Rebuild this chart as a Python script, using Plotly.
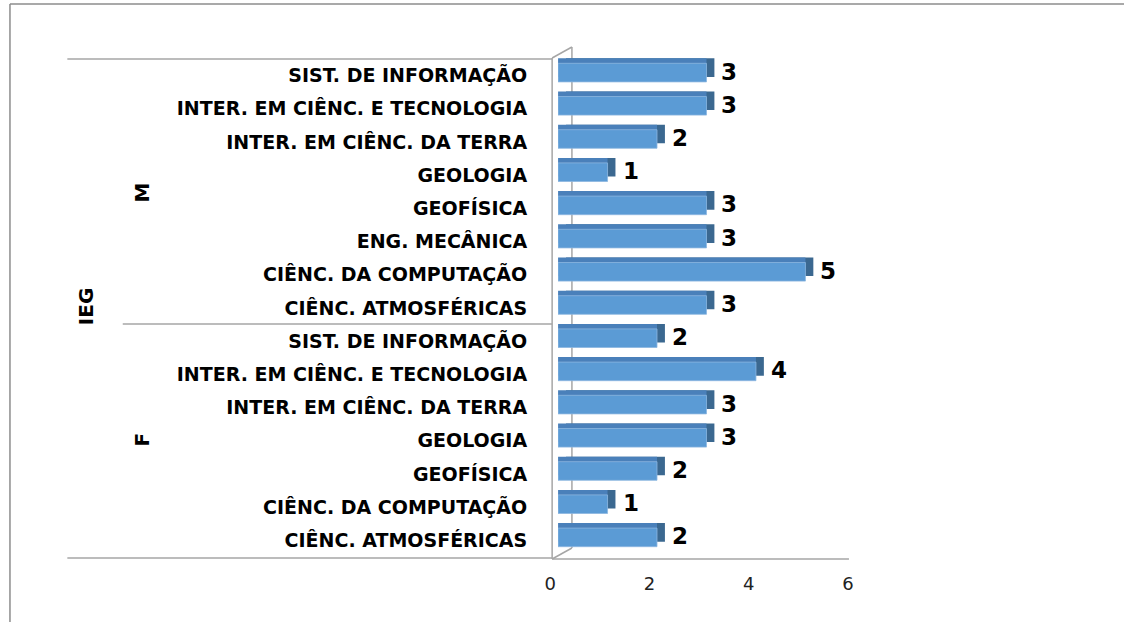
import plotly.graph_objects as go

# ---------------- data ----------------
courses_F = ["CIÊNC. ATMOSFÉRICAS", "CIÊNC. DA COMPUTAÇÃO", "GEOFÍSICA", "GEOLOGIA",
             "INTER. EM CIÊNC. DA TERRA", "INTER. EM CIÊNC. E TECNOLOGIA", "SIST. DE INFORMAÇÃO"]
values_F = [2, 1, 2, 3, 3, 4, 2]
courses_M = ["CIÊNC. ATMOSFÉRICAS", "CIÊNC. DA COMPUTAÇÃO", "ENG. MECÂNICA", "GEOFÍSICA", "GEOLOGIA",
             "INTER. EM CIÊNC. DA TERRA", "INTER. EM CIÊNC. E TECNOLOGIA", "SIST. DE INFORMAÇÃO"]
values_M = [3, 5, 3, 3, 1, 2, 3, 3]
group_labels = ["F", "M"]
outer_label = "IEG"
x_ticks = [0, 2, 4, 6]

labels = courses_F + courses_M
values = values_F + values_M
pos = list(range(len(labels)))

W, H = 1130, 622
def px(x): return x / W
def py(y): return 1 - y / H

FRONT = "#5B9BD5"
TOP = "#4A80BA"
SIDE = "#3B6890"
GRID = "#A6A6A6"
FONT = "DejaVu Sans"

fig = go.Figure()
# invisible trace so the front (labelled) axes are drawn
fig.add_trace(go.Scatter(x=values, y=pos, mode="markers", marker=dict(opacity=0), xaxis="x", yaxis="y",
                         hoverinfo="skip", showlegend=False))
# back (side face) bars
fig.add_trace(go.Bar(x=values, y=pos, orientation="h", width=0.56, marker=dict(color=SIDE, line=dict(width=0)),
                     xaxis="x2", yaxis="y2", hoverinfo="skip", showlegend=False))
# top face bars
fig.add_trace(go.Bar(x=values, y=pos, orientation="h", width=0.56, marker=dict(color=TOP, line=dict(width=0)),
                     xaxis="x3", yaxis="y3", hoverinfo="skip", showlegend=False))
# front face bars
fig.add_trace(go.Bar(x=values, y=pos, orientation="h", width=0.56,
                     marker=dict(color=FRONT, line=dict(color="#8DB6E0", width=0.8)),
                     xaxis="x4", yaxis="y4", showlegend=False))

hidden = dict(visible=False, showgrid=False, zeroline=False, fixedrange=True)
fig.update_layout(
    width=W, height=H,
    margin=dict(l=0, r=0, t=0, b=0),
    paper_bgcolor="white", plot_bgcolor="rgba(0,0,0,0)",
    barmode="overlay",
    xaxis=dict(domain=[px(550), px(851)], range=[0, 6], tickvals=x_ticks, ticks="",
               showgrid=False, zeroline=False, showline=False, anchor="y", ticklabelstandoff=14,
               tickfont=dict(family=FONT, size=18, color="#222")),
    yaxis=dict(domain=[py(557), py(59)], range=[-0.5, len(labels) - 0.5], tickvals=pos, ticktext=labels,
               ticks="", showgrid=False, zeroline=False, showline=False, anchor="x",
               ticklabelstandoff=22,
               tickfont=dict(family=FONT, size=19, color="black", weight="bold")),
    xaxis2=dict(domain=[px(566), px(866)], range=[0, 6], anchor="y2", **hidden),
    yaxis2=dict(domain=[py(549), py(51)], range=[-0.5, len(labels) - 0.5], anchor="x2", **hidden),
    xaxis3=dict(domain=[px(558), px(858)], range=[0, 6], anchor="y3", **hidden),
    yaxis3=dict(domain=[py(549), py(51)], range=[-0.5, len(labels) - 0.5], anchor="x3", **hidden),
    xaxis4=dict(domain=[px(558), px(858)], range=[0, 6], anchor="y4", **hidden),
    yaxis4=dict(domain=[py(554), py(56)], range=[-0.5, len(labels) - 0.5], anchor="x4", **hidden),
)

# data labels
for p, v in zip(pos, values):
    fig.add_annotation(x=v, y=p, xref="x4", yref="y4", text=str(v), showarrow=False,
                       xanchor="left", xshift=13, yshift=1,
                       font=dict(family=FONT, size=23, color="black", weight="bold"))

# group labels
gfont = dict(family=FONT, size=20, color="black", weight="bold")
for txt, xx, yy in [(group_labels[0], 137, 440), (group_labels[1], 137, 193), (outer_label, 81, 306)]:
    fig.add_annotation(x=px(xx), y=py(yy), xref="paper", yref="paper", text=txt, textangle=-90,
                       xanchor="center", yanchor="middle", showarrow=False, font=gfont)

def pline(x0, y0, x1, y1, color=GRID, width=1.5):
    fig.add_shape(type="line", xref="paper", yref="paper", x0=px(x0), y0=py(y0), x1=px(x1), y1=py(y1),
                  line=dict(color=color, width=width), layer="below")

# 3D frame
pline(552, 58, 552, 559)
pline(552, 559, 852, 559)
pline(572, 47, 572, 548)
pline(552, 58, 572, 47)
pline(552, 559, 572, 548)
# category separators
pline(62, 59, 552, 59)
pline(118, 324, 552, 324)
pline(62, 558, 552, 558)
# outer border
pline(4, 4, 1130, 4, color="#8C8C8C", width=1.5)
pline(4, 4, 4, 622, color="#8C8C8C", width=1.5)

fig.write_html("out.html", config={"displayModeBar": False},
               post_script="document.body.style.margin='0';")
